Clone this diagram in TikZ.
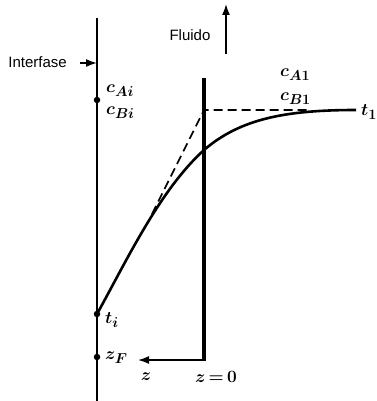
\documentclass[tikz,border=0pt]{standalone}
\usepackage{fontspec}
\setmainfont{Liberation Sans}
\usetikzlibrary{arrows.meta}
\begin{document}
\begin{tikzpicture}[x=1pt,y=-1pt,
  txt/.style={font=\fontsize{15}{17}\selectfont, inner sep=0pt},
  lab/.style={font=\fontsize{19}{21}\selectfont\boldmath, inner sep=0pt, anchor=west},
  dotnode/.style={circle, fill=black, inner sep=0pt, minimum size=6.5pt},
  arr/.style={-{Latex[length=11pt,width=8pt]}, line width=1.6pt}]
\useasboundingbox (0,0) rectangle (376,401);
% interface line
\coordinate (itop) at (97,18);
\coordinate (ibot) at (97,401);
\draw[line width=2pt] (itop) -- (ibot);
% film boundary
\coordinate (ftop) at (204,78);
\coordinate (fbot) at (204,360);
\draw[line width=3.4pt] (ftop) -- (fbot);
% z arrow
\coordinate (ztip) at (138,360);
\draw[arr] ([xshift=1.7pt]fbot) -- (ztip);
\node[lab, anchor=center] (zl) at (146,377) {$z$};
\node[lab, anchor=center] (z0) at (216,377) {$z\,{=}\,0$};
% dots
\node[dotnode] (ci) at (97,100) {};
\node[dotnode] (ti) at (97,314) {};
\node[dotnode] (zf) at (97,357) {};
\node[lab] (cAi) at (106,91) {$c_{Ai}$};
\node[lab] (cBi) at (106,113) {$c_{Bi}$};
\node[lab] (til) at (105,320) {$t_i$};
\node[lab] (zfl) at (105,358) {$z_F$};
% interfase
\node[txt, anchor=east] (intf) at (67,62) {Interfase};
\coordinate (iarr) at (97,63);
\draw[arr] (80,63) -- (iarr);
% fluido
\node[txt] (flu) at (190,35) {Fluido};
\coordinate (fa1) at (226,54);
\coordinate (fa2) at (226,4);
\draw[arr] (fa1) -- (fa2);
% c_A1 c_B1 t_1
\node[lab] (cA1) at (280,75) {$c_{A1}$};
\node[lab] (cB1) at (280,99) {$c_{B1}$};
\node[lab] (t1) at (361,112) {$t_1$};
% dashed lines
\coordinate (corner) at (204,110);
\coordinate (tan) at (152,214);
\coordinate (hend) at (310,110);
\draw[dash pattern=on 9pt off 5pt, line width=1.6pt] (tan) -- (corner) -- (hend);
% curve
\coordinate (cross) at (204,150);
\coordinate (cend) at (356,110);
\draw[line width=2.6pt] (ti.center) .. controls (128,258) and (160,190) .. (cross)
  .. controls (240,119) and (285,110) .. (cend);
\end{tikzpicture}
\end{document}
